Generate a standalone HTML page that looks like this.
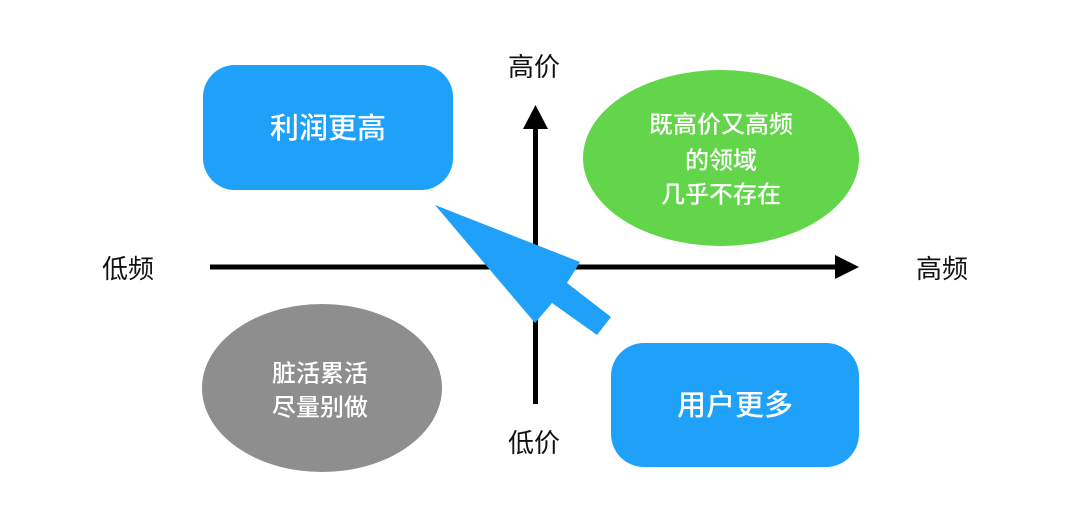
<!DOCTYPE html>
<html><head><meta charset="utf-8"><style>
html,body{margin:0;padding:0;background:#fff;}
svg{display:block;}
text{font-family:"Liberation Sans","Noto Sans CJK SC",sans-serif;}
</style></head><body>
<svg width="1080" height="514" viewBox="0 0 1080 514" xmlns="http://www.w3.org/2000/svg">
<rect width="1080" height="514" fill="#fff"/>
<!-- axes -->
<rect x="210" y="264.5" width="630" height="5" fill="#000"/>
<polygon points="835,255 859,267 835,279" fill="#000"/>
<rect x="533" y="125" width="5" height="279" fill="#000"/>
<polygon points="523,129 535.5,105 548,129" fill="#000"/>
<!-- labels -->
<text x="128" y="269" font-size="26" text-anchor="middle" dominant-baseline="central" fill="#111">低频</text>
<text x="942" y="269" font-size="26" text-anchor="middle" dominant-baseline="central" fill="#111">高频</text>
<text x="534" y="67" font-size="26" text-anchor="middle" dominant-baseline="central" fill="#111">高价</text>
<text x="534" y="443" font-size="26" text-anchor="middle" dominant-baseline="central" fill="#111">低价</text>
<!-- shapes -->
<rect x="203" y="65" width="250" height="125" rx="32" fill="#1FA1FA"/>
<text x="328" y="129" font-size="29" font-weight="500" text-anchor="middle" dominant-baseline="central" fill="#fff">利润更高</text>
<rect x="611" y="343" width="248" height="124" rx="33" fill="#1FA1FA"/>
<text x="735" y="406" font-size="29" font-weight="500" text-anchor="middle" dominant-baseline="central" fill="#fff">用户更多</text>
<ellipse cx="721" cy="158" rx="138" ry="88" fill="#63D54A"/>
<text x="721" y="125" font-size="24" font-weight="500" text-anchor="middle" dominant-baseline="central" fill="#fff">既高价又高频</text>
<text x="721" y="161" font-size="24" font-weight="500" text-anchor="middle" dominant-baseline="central" fill="#fff">的领域</text>
<text x="721" y="195" font-size="24" font-weight="500" text-anchor="middle" dominant-baseline="central" fill="#fff">几乎不存在</text>
<ellipse cx="322" cy="388" rx="120" ry="84" fill="#8E8E8E"/>
<text x="320" y="374" font-size="24" font-weight="500" text-anchor="middle" dominant-baseline="central" fill="#fff">脏活累活</text>
<text x="320" y="408" font-size="24" font-weight="500" text-anchor="middle" dominant-baseline="central" fill="#fff">尽量别做</text>
<!-- big arrow -->
<polygon points="435,205 580,262 567,283 611,317 597,335 552,303 535,323" fill="#1FA1FA"/>
</svg>
</body></html>
